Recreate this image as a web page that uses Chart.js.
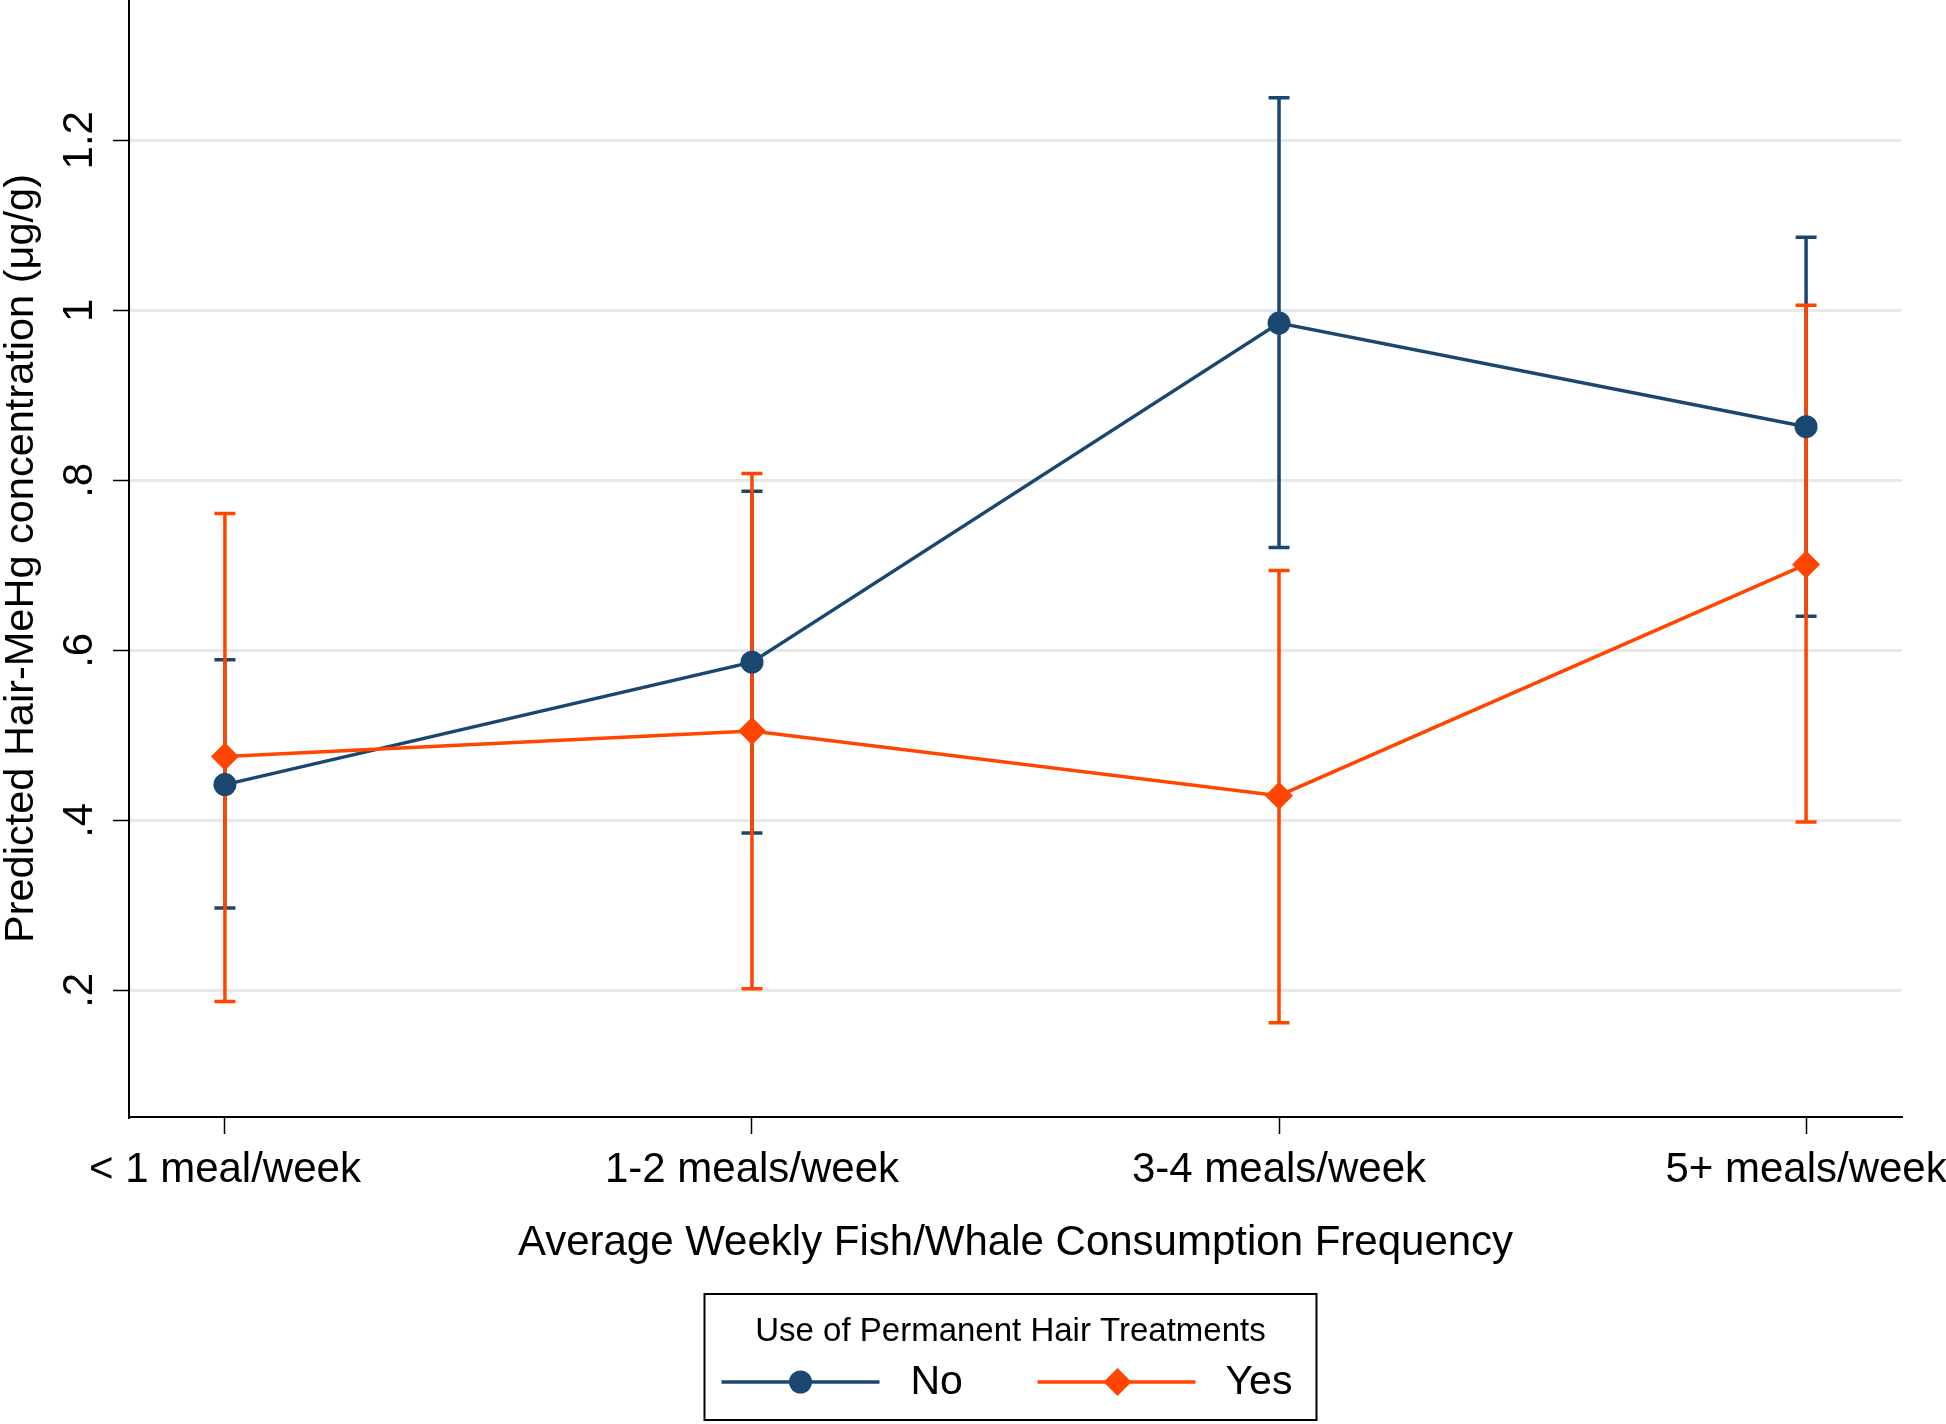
<!DOCTYPE html>
<html>
<head>
<meta charset="utf-8">
<title>Predicted Hair-MeHg concentration</title>
<script src="https://cdn.jsdelivr.net/npm/chart.js@4.4.0/dist/chart.umd.min.js"></script>
<style>
  html, body { margin: 0; padding: 0; background: #fff; }
  #wrap { width: 1946px; height: 1424px; position: relative; }
</style>
</head>
<body>
<div id="wrap"><canvas id="chart"></canvas></div>
<script>
// categories on the x axis (placed at 1..4 on a linear scale)
const categories = ['< 1 meal/week', '1-2 meals/week', '3-4 meals/week', '5+ meals/week'];
const catPos = [1, 2, 3, 4];

// "No" permanent hair treatments: predicted value and 95% CI
const noMean = [0.442, 0.586, 0.985, 0.863];
const noLow  = [0.297, 0.385, 0.721, 0.640];
const noHigh = [0.589, 0.787, 1.250, 1.086];

// "Yes" permanent hair treatments
const yesMean = [0.475, 0.505, 0.429, 0.701];
const yesLow  = [0.187, 0.202, 0.162, 0.398];
const yesHigh = [0.761, 0.808, 0.694, 1.006];

const yTickValues = [0.2, 0.4, 0.6, 0.8, 1.0, 1.2];
const yTickLabels = ['.2', '.4', '.6', '.8', '1', '1.2'];

const NAVY = '#1a476f';
const ORANGE = '#ff4500';
const FONT = "'Liberation Sans', Arial, Helvetica, sans-serif";

Chart.defaults.font.family = FONT;
Chart.defaults.color = '#000';

// Draw the CI caps underneath the connected lines
const errorBars = {
    id: 'errorBars',
    beforeDatasetsDraw(chart) {
        const { ctx, scales: { x, y } } = chart;
        const sets = [
            { low: noLow, high: noHigh, color: NAVY },
            { low: yesLow, high: yesHigh, color: ORANGE },
        ];
        const cap = 10.5;
        ctx.save();
        ctx.lineWidth = 3.5;
        sets.forEach(s => {
            ctx.strokeStyle = s.color;
            catPos.forEach((c, i) => {
                const px = x.getPixelForValue(c);
                const top = y.getPixelForValue(s.high[i]);
                const bot = y.getPixelForValue(s.low[i]);
                ctx.beginPath();
                ctx.moveTo(px, top);
                ctx.lineTo(px, bot);
                ctx.moveTo(px - cap, top);
                ctx.lineTo(px + cap, top);
                ctx.moveTo(px - cap, bot);
                ctx.lineTo(px + cap, bot);
                ctx.stroke();
            });
        });
        ctx.restore();
    }
};

// Stata-style boxed legend under the x axis title
const boxLegend = {
    id: 'boxLegend',
    afterDraw(chart) {
        const { ctx, chartArea } = chart;
        const cx = (chartArea.left + chartArea.right) / 2 - 5;
        const h = chart.height;
        const left = cx - 306, right = cx + 306;
        const top = h - 130, bottom = h - 4;

        ctx.save();
        ctx.strokeStyle = '#000';
        ctx.lineWidth = 2;
        ctx.strokeRect(left, top, right - left, bottom - top);

        ctx.fillStyle = '#000';
        ctx.textAlign = 'center';
        ctx.textBaseline = 'middle';
        ctx.font = `33px ${FONT}`;
        ctx.fillText('Use of Permanent Hair Treatments', cx, top + 38);

        const rowY = top + 88;
        // No
        ctx.strokeStyle = NAVY;
        ctx.lineWidth = 3.5;
        ctx.beginPath();
        ctx.moveTo(left + 17, rowY);
        ctx.lineTo(left + 175, rowY);
        ctx.stroke();
        ctx.fillStyle = NAVY;
        ctx.beginPath();
        ctx.arc(left + 96, rowY, 11.5, 0, Math.PI * 2);
        ctx.fill();

        // Yes
        ctx.strokeStyle = ORANGE;
        ctx.beginPath();
        ctx.moveTo(left + 333, rowY);
        ctx.lineTo(left + 491, rowY);
        ctx.stroke();
        ctx.fillStyle = ORANGE;
        const dx = left + 413, r = 14;
        ctx.beginPath();
        ctx.moveTo(dx, rowY - r);
        ctx.lineTo(dx + r, rowY);
        ctx.lineTo(dx, rowY + r);
        ctx.lineTo(dx - r, rowY);
        ctx.closePath();
        ctx.fill();

        ctx.fillStyle = '#000';
        ctx.textAlign = 'left';
        ctx.font = `41px ${FONT}`;
        ctx.fillText('No', left + 206, rowY + 1);
        ctx.fillText('Yes', left + 521, rowY + 1);
        ctx.restore();
    }
};

const ctx = document.getElementById('chart');

new Chart(ctx, {
    type: 'line',
    data: {
        datasets: [
            {
                label: 'No',
                data: catPos.map((c, i) => ({ x: c, y: noMean[i] })),
                borderColor: NAVY,
                backgroundColor: NAVY,
                borderWidth: 3.5,
                pointStyle: 'circle',
                pointRadius: 11.5,
                pointBorderWidth: 0,
                pointBackgroundColor: NAVY,
                tension: 0,
                order: 1,
            },
            {
                label: 'Yes',
                data: catPos.map((c, i) => ({ x: c, y: yesMean[i] })),
                borderColor: ORANGE,
                backgroundColor: ORANGE,
                borderWidth: 3.5,
                pointStyle: 'rectRot',
                pointRadius: 14,
                pointBorderWidth: 0,
                pointBackgroundColor: ORANGE,
                tension: 0,
                order: 0,
            }
        ]
    },
    options: {
        responsive: true,
        maintainAspectRatio: false,
        animation: false,
        layout: {
            autoPadding: false,
            padding: { left: 0, right: 44, top: 0, bottom: 157 }
        },
        plugins: {
            legend: { display: false },
            tooltip: { enabled: false },
        },
        scales: {
            x: {
                type: 'linear',
                min: 0.818,
                max: 4.182,
                afterBuildTicks: (s) => { s.ticks = catPos.map(v => ({ value: v })); },
                afterFit: (s) => { s.height = 150; s.paddingLeft = 0; s.paddingRight = 0; },
                grid: {
                    drawOnChartArea: false,
                    tickColor: '#000',
                    tickLength: 17,
                    tickWidth: 1.5,
                },
                border: { color: '#000', width: 2 },
                ticks: {
                    color: '#000',
                    font: { size: 42 },
                    padding: 11,
                    maxRotation: 0,
                    autoSkip: false,
                    callback: (v, i) => categories[i],
                },
                title: {
                    display: true,
                    text: 'Average Weekly Fish/Whale Consumption Frequency',
                    color: '#000',
                    font: { size: 42, lineHeight: 1 },
                    padding: { top: 0, bottom: 3 },
                }
            },
            y: {
                type: 'linear',
                min: 0.051,
                max: 1.365,
                afterBuildTicks: (s) => { s.ticks = yTickValues.map(v => ({ value: v })); },
                afterFit: (s) => { s.width = 129; s.paddingTop = 0; s.paddingBottom = 0; },
                grid: {
                    color: '#e8e8e8',
                    lineWidth: 3,
                    tickColor: '#000',
                    tickLength: 16,
                    tickWidth: 1.5,
                },
                border: { color: '#000', width: 2 },
                ticks: {
                    color: '#000',
                    font: { size: 42 },
                    minRotation: 90,
                    maxRotation: 90,
                    crossAlign: 'center',
                    padding: 3,
                    callback: (v, i) => yTickLabels[i],
                },
                title: {
                    display: true,
                    text: 'Predicted Hair-MeHg concentration (μg/g)',
                    color: '#000',
                    font: { size: 41.5, lineHeight: 1 },
                    padding: { top: 1, bottom: 0 },
                }
            }
        }
    },
    plugins: [errorBars, boxLegend]
});
</script>
</body>
</html>
